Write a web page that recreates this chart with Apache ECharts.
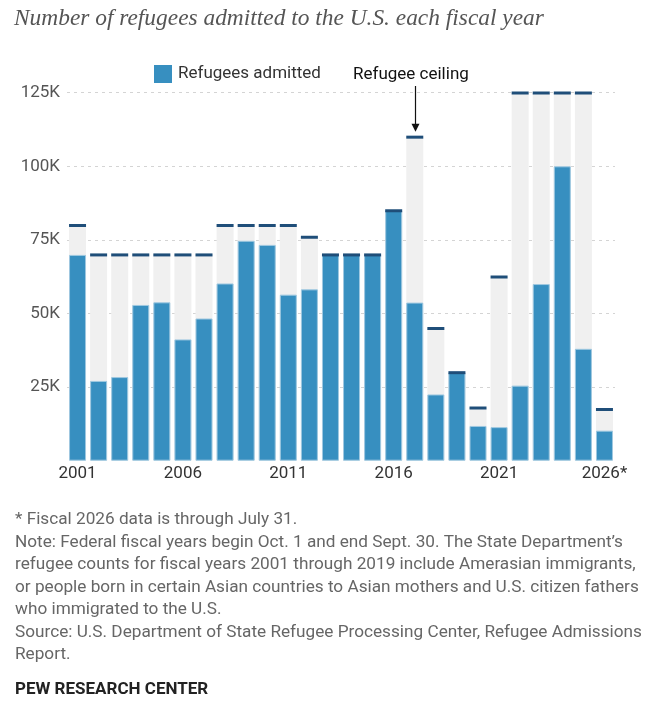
<!DOCTYPE html>
<html>
<head>
<meta charset="utf-8">
<script src="https://cdn.jsdelivr.net/npm/echarts@6/dist/echarts.min.js"></script>
<style>
  html, body { margin: 0; padding: 0; background: #fff; }
  #main { width: 661px; height: 709px; }
</style>
</head>
<body>
<div id="main"></div>
<script>
// fiscal years (tick labels)
var years = ['2001', '2002', '2003', '2004', '2005', '2006', '2007', '2008', '2009', '2010',
  '2011', '2012', '2013', '2014', '2015', '2016', '2017', '2018', '2019', '2020',
  '2021', '2022', '2023', '2024', '2025', '2026*'];
// refugees admitted
var admitted = [69900, 27100, 28400, 52900, 53800, 41200, 48300, 60200, 74700, 73300,
  56400, 58200, 69900, 70000, 69900, 85000, 53700, 22500, 30000, 11800,
  11400, 25500, 60000, 100000, 38000, 10200];
// refugee ceiling
var ceiling = [80000, 70000, 70000, 70000, 70000, 70000, 70000, 80000, 80000, 80000,
  80000, 76000, 70000, 70000, 70000, 85000, 110000, 45000, 30000, 18000,
  62500, 125000, 125000, 125000, 125000, 17500];
var yTicks = [0, 25000, 50000, 75000, 100000, 125000];

var sans = 'Roboto, "Noto Sans", sans-serif';
var notes = [
  '* Fiscal 2026 data is through July 31.',
  'Note: Federal fiscal years begin Oct. 1 and end Sept. 30. The State Department\u2019s',
  'refugee counts for fiscal years 2001 through 2019 include Amerasian immigrants,',
  'or people born in certain Asian countries to Asian mothers and U.S. citizen fathers',
  'who immigrated to the U.S.',
  'Source: U.S. Department of State Refugee Processing Center, Refugee Admissions',
  'Report.'
];

var myChart = echarts.init(document.getElementById('main'));

var option = {
  backgroundColor: '#fff',
  animation: false,
  grid: { left: 67, right: 46, top: 92.7, bottom: 248.3 },
  legend: {
    data: ['Refugees admitted'],
    left: 149, top: 60,
    icon: 'rect', itemWidth: 18, itemHeight: 18, itemGap: 6,
    itemStyle: { borderWidth: 0 },
    textStyle: { fontFamily: sans, fontSize: 17, color: '#333', padding: [0, 0, 0, 1] },
    selectedMode: false
  },
  xAxis: {
    type: 'category',
    data: years,
    axisLine: { show: false },
    axisTick: { show: false },
    axisLabel: {
      interval: 4, margin: 5,
      fontFamily: sans, fontSize: 17, color: '#333'
    }
  },
  yAxis: {
    type: 'value',
    min: yTicks[0], max: yTicks[yTicks.length - 1], interval: 25000,
    axisLine: { show: false },
    axisTick: { show: false },
    axisLabel: {
      margin: 7, fontFamily: sans, fontSize: 17, color: '#555',
      formatter: function (v) { return v === 0 ? '' : (v / 1000) + 'K'; }
    },
    splitLine: {
      showMinLine: false,
      lineStyle: { color: '#d4d4d4', type: [3, 4], width: 1.2 }
    }
  },
  series: [
    {
      name: 'Refugee ceiling',
      type: 'bar',
      data: ceiling,
      barWidth: 17,
      barGap: '-100%',
      itemStyle: { color: '#f0f0f0' },
      z: 2
    },
    {
      name: 'Refugees admitted',
      type: 'bar',
      data: admitted,
      barWidth: 17,
      barGap: '-100%',
      itemStyle: { color: '#378fc0', borderColor: '#9fc8e0', borderWidth: 1 },
      z: 3
    },
    {
      name: 'cap',
      type: 'pictorialBar',
      data: ceiling,
      symbol: 'rect',
      symbolSize: [17, 3],
      symbolPosition: 'end',
      symbolOffset: [0, '-40%'],
      itemStyle: { color: '#1f4e79' },
      z: 4
    }
  ],
  graphic: []
};

myChart.setOption(option);

// title, notes and the ceiling annotation
var p = myChart.convertToPixel({ seriesIndex: 0 }, [16, ceiling[16]]);
var ax = Math.round(p[0]) + 0.5;
var tipY = p[1] - 5;

myChart.setOption({
  graphic: [
    {
      type: 'text', left: 14, top: 7,
      style: {
        text: 'Number of refugees admitted to the U.S. each fiscal year',
        font: 'italic 23.4px "Liberation Serif", serif', fill: '#555'
      }
    },
    {
      type: 'text', x: 353, y: 75,
      style: {
        text: 'Refugee ceiling', fontFamily: sans, fontSize: 17, fill: '#111',
        verticalAlign: 'middle'
      }
    },
    {
      type: 'line', z: 10,
      shape: { x1: ax, y1: 86, x2: ax, y2: tipY - 6 },
      style: { stroke: '#111', lineWidth: 1.2 }
    },
    {
      type: 'polygon', z: 10,
      shape: { points: [[ax - 4, tipY - 8], [ax + 4, tipY - 8], [ax, tipY]] },
      style: { fill: '#111' }
    },
    {
      type: 'text', x: 15, y: 508.7,
      style: {
        text: notes.join('\n'), fontFamily: sans, fontSize: 17.2,
        lineHeight: 22.5, fill: '#666'
      }
    },
    {
      type: 'text', x: 15, y: 690,
      style: {
        text: 'PEW RESEARCH CENTER', fontFamily: sans, fontSize: 17,
        fontWeight: 'bold', fill: '#222', verticalAlign: 'middle'
      }
    }
  ]
});
</script>
</body>
</html>
